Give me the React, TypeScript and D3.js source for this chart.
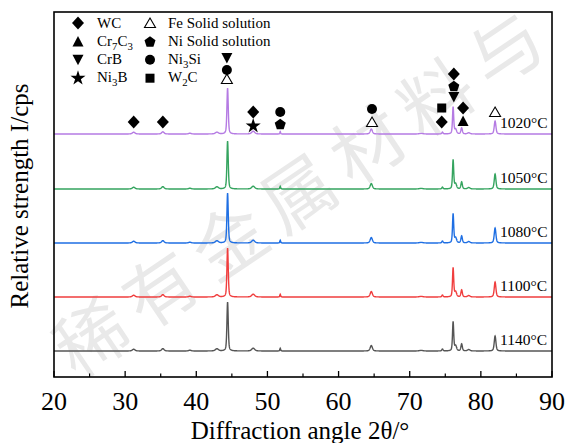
import React from "react";
import * as d3 from "d3";

// Diffraction pattern peaks shared by all samples (2θ in degrees)
const peakPositions = [31.2, 35.3, 39.1, 42.9, 44.4, 48.0, 51.8, 64.6, 71.6, 74.6, 76.1, 76.45, 77.3, 78.3, 82.0];
const peakWidths = [0.22, 0.2, 0.2, 0.25, 0.11, 0.25, 0.06, 0.18, 0.3, 0.1, 0.1, 0.16, 0.12, 0.2, 0.14];

// Sample labels, colours and vertical offsets (cps)
const temperatures = ["1020°C", "1050°C", "1080°C", "1100°C", "1140°C"];
const seriesColors = ["#b57be3", "#35a45f", "#1f6fe3", "#f03e3e", "#555555"];
const seriesOffsets = [2430, 1880, 1340, 800, 260];

// Peak intensities per sample (cps above its baseline)
const heights1020 = [18, 22, 8, 18, 460, 28, 25, 50, 6, 18, 270, 45, 60, 12, 130];
const heights1050 = [18, 24, 8, 22, 480, 28, 28, 55, 6, 18, 290, 50, 70, 14, 150];
const heights1080 = [18, 24, 8, 22, 500, 28, 28, 55, 6, 20, 290, 50, 70, 14, 150];
const heights1100 = [18, 24, 8, 22, 490, 28, 28, 55, 6, 20, 290, 50, 70, 14, 150];
const heights1140 = [18, 24, 8, 22, 490, 28, 28, 55, 6, 20, 290, 50, 70, 14, 150];
const seriesHeights = [heights1020, heights1050, heights1080, heights1100, heights1140];

// Phase markers above the 1020°C pattern: 2θ, intensity level and phase
const markerAngles = [31.2, 35.3, 44.3, 44.3, 44.3, 48.0, 48.0, 51.8, 51.8, 64.7, 64.7, 74.5, 74.5, 76.2, 76.2, 76.2, 77.5, 77.5, 82.0];
const markerLevels = [2550, 2550, 2980, 3070, 3190, 2650, 2510, 2650, 2530, 2680, 2550, 2690, 2550, 3030, 2910, 2800, 2690, 2560, 2650];
const markerPhases = ["WC", "WC", "Fe", "Ni3Si", "CrB", "WC", "Ni3B", "Ni3Si", "Ni", "Ni3Si", "Fe", "W2C", "WC", "WC", "Ni", "CrB", "WC", "Cr7C3", "Fe"];

// Legend entries: phase key and label parts as (text, subscript?)
const legendCol1 = ["WC", "Cr7C3", "CrB", "Ni3B"];
const legendCol2 = ["Fe", "Ni", "Ni3Si", "W2C"];
const legendLabels: Record<string, [string, boolean][]> = {
  WC: [["WC", false]],
  Cr7C3: [["Cr", false], ["7", true], ["C", false], ["3", true]],
  CrB: [["CrB", false]],
  Ni3B: [["Ni", false], ["3", true], ["B", false]],
  Fe: [["Fe Solid solution", false]],
  Ni: [["Ni Solid solution", false]],
  Ni3Si: [["Ni", false], ["3", true], ["Si", false]],
  W2C: [["W", false], ["2", true], ["C", false]],
};

const xTicks = [20, 30, 40, 50, 60, 70, 80, 90];
const watermarkChars = ["稀", "有", "金", "属", "材", "料", "与"];

const W = 568;
const H = 443;
const margin = { left: 54, right: 16, top: 12, bottom: 66 };

function profile(x: number, heights: number[]) {
  let s = 0;
  for (let i = 0; i < peakPositions.length; i++) {
    const g = peakWidths[i];
    const d = (x - peakPositions[i]) / g;
    const lor = 1 / (1 + d * d);
    const gau = Math.exp(-0.693 * d * d);
    s += heights[i] * (0.45 * lor + 0.55 * gau);
  }
  return s;
}

function Marker({ phase, x, y }: { phase: string; x: number; y: number }) {
  const c = "#000";
  switch (phase) {
    case "WC":
      return <path d={`M${x},${y - 6.5} L${x + 6},${y} L${x},${y + 6.5} L${x - 6},${y} Z`} fill={c} />;
    case "Cr7C3":
      return <path d={`M${x},${y - 5.5} L${x + 5.5},${y + 5} L${x - 5.5},${y + 5} Z`} fill={c} />;
    case "CrB":
      return <path d={`M${x - 5.5},${y - 5} L${x + 5.5},${y - 5} L${x},${y + 5.5} Z`} fill={c} />;
    case "Ni3B":
      return <path d={d3.symbol(d3.symbolStar, 70)() as string} transform={`translate(${x},${y})`} fill={c} />;
    case "Fe":
      return (
        <path
          d={`M${x},${y - 5} L${x + 5.5},${y + 4.5} L${x - 5.5},${y + 4.5} Z`}
          fill="#fff"
          stroke={c}
          strokeWidth={1.1}
        />
      );
    case "Ni": {
      const pts = d3.range(5).map((k) => {
        const a = -Math.PI / 2 + (k * 2 * Math.PI) / 5;
        return [x + 5.8 * Math.cos(a), y + 0.6 + 5.8 * Math.sin(a)];
      });
      return <path d={"M" + pts.map((p) => p.join(",")).join("L") + "Z"} fill={c} />;
    }
    case "Ni3Si":
      return <circle cx={x} cy={y} r={5} fill={c} />;
    case "W2C":
      return <rect x={x - 4.5} y={y - 4.5} width={9} height={9} fill={c} />;
    default:
      return null;
  }
}

function Label({ parts, x, y, size }: { parts: [string, boolean][]; x: number; y: number; size: number }) {
  return (
    <text x={x} y={y} fontFamily="'Liberation Serif', 'Times New Roman', serif" fontSize={size} fill="#000">
      {parts.map(([t, sub], i) => (
        <tspan key={i} dy={sub ? 4 : i > 0 && parts[i - 1][1] ? -4 : 0} fontSize={sub ? size * 0.72 : size}>
          {t}
        </tspan>
      ))}
    </text>
  );
}

export default function App() {
  const x = d3.scaleLinear().domain([20, 90]).range([margin.left, W - margin.right]);
  const y = d3.scaleLinear().domain([0, 3650]).range([H - margin.bottom, margin.top]);
  const samples = d3.range(20, 90.001, 0.02);
  const line = d3
    .line<[number, number]>()
    .x((d) => x(d[0]))
    .y((d) => y(d[1]));

  const minorTicks = d3.range(25, 90, 10);
  const bottom = H - margin.bottom;
  const serif = "'Liberation Serif', 'Times New Roman', serif";

  return (
    <svg width={W} height={H} style={{ position: "absolute", left: 0, top: 0, background: "#fff" }}>
      {/* watermark */}
      <g fill="#e9e9e9" fontFamily="'Noto Sans CJK SC', sans-serif" fontSize={72} textAnchor="middle">
        {watermarkChars.map((ch, i) => {
          const cx = 92 + i * 69;
          const cy = 338 - i * 48;
          return (
            <text key={i} x={cx} y={cy + 26} transform={`rotate(-34, ${cx}, ${cy})`}>
              {ch}
            </text>
          );
        })}
      </g>

      {/* patterns */}
      {seriesHeights.map((hs, i) => (
        <path
          key={i}
          d={line(samples.map((a) => [a, seriesOffsets[i] + profile(a, hs)]))!}
          fill="none"
          stroke={seriesColors[i]}
          strokeWidth={1.4}
        />
      ))}

      {/* temperature labels */}
      {temperatures.map((t, i) => (
        <text
          key={t}
          x={x(82.7)}
          y={y(seriesOffsets[i]) - 6.5}
          fontFamily={serif}
          fontSize={15.5}
          fill="#000"
        >
          {t}
        </text>
      ))}

      {/* phase markers */}
      {markerPhases.map((p, i) => (
        <Marker key={i} phase={p} x={x(markerAngles[i])} y={y(markerLevels[i])} />
      ))}

      {/* legend */}
      {legendCol1.map((k, i) => (
        <g key={k}>
          <Marker phase={k} x={78} y={23 + i * 18.4} />
          <Label parts={legendLabels[k]} x={97} y={28 + i * 18.0} size={15} />
        </g>
      ))}
      {legendCol2.map((k, i) => (
        <g key={k}>
          <Marker phase={k} x={150} y={23 + i * 18.4} />
          <Label parts={legendLabels[k]} x={168} y={28 + i * 18.0} size={15} />
        </g>
      ))}

      {/* frame */}
      <rect
        x={margin.left}
        y={margin.top}
        width={W - margin.left - margin.right}
        height={H - margin.top - margin.bottom}
        fill="none"
        stroke="#000"
        strokeWidth={1.6}
      />

      {/* bottom ticks */}
      {xTicks.map((t) => (
        <g key={t}>
          <line x1={x(t)} x2={x(t)} y1={bottom} y2={bottom - 6} stroke="#000" strokeWidth={1.3} />
          <text x={x(t)} y={bottom + 33} textAnchor="middle" fontFamily={serif} fontSize={26} fill="#000">
            {t}
          </text>
        </g>
      ))}
      {minorTicks.map((t) => (
        <line key={t} x1={x(t)} x2={x(t)} y1={bottom} y2={bottom - 3.5} stroke="#000" strokeWidth={1.2} />
      ))}

      <text x={300} y={439} textAnchor="middle" fontFamily={serif} fontSize={25} fill="#000">
        Diffraction angle 2θ/°
      </text>
      <text
        transform={`translate(28, 196) rotate(-90)`}
        textAnchor="middle"
        fontFamily={serif}
        fontSize={25}
        fill="#000"
      >
        Relative strength I/cps
      </text>
    </svg>
  );
}
